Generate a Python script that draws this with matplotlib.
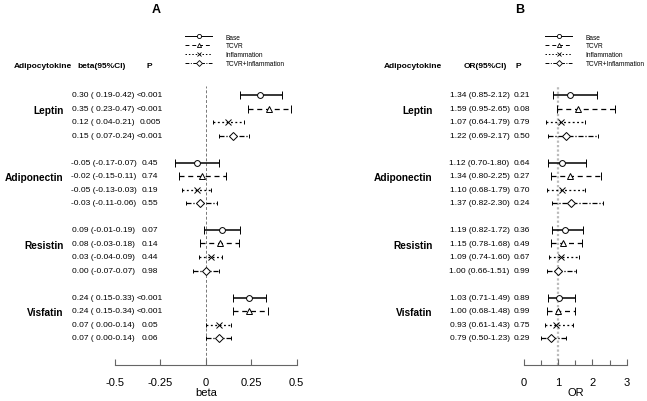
import numpy as np
import matplotlib
matplotlib.use("Agg")
import matplotlib.pyplot as plt
from matplotlib.lines import Line2D
from matplotlib import transforms

plt.rcParams['font.family'] = ['Liberation Sans', 'DejaVu Sans']

# ---------------- data ----------------
groups = ["Leptin", "Adiponectin", "Resistin", "Visfatin"]
models = ["Base", "TCVR", "Inflammation", "TCVR+Inflammation"]

beta_est = [[0.30, 0.35, 0.12, 0.15],
            [-0.05, -0.02, -0.05, -0.03],
            [0.09, 0.08, 0.03, 0.00],
            [0.24, 0.24, 0.07, 0.07]]
beta_lo = [[0.19, 0.23, 0.04, 0.07],
           [-0.17, -0.15, -0.13, -0.11],
           [-0.01, -0.03, -0.04, -0.07],
           [0.15, 0.15, 0.00, 0.00]]
beta_hi = [[0.42, 0.47, 0.21, 0.24],
           [0.07, 0.11, 0.03, 0.06],
           [0.19, 0.18, 0.09, 0.07],
           [0.33, 0.34, 0.14, 0.14]]
beta_p = [["<0.001", "<0.001", "0.005", "<0.001"],
          ["0.45", "0.74", "0.19", "0.55"],
          ["0.07", "0.14", "0.44", "0.98"],
          ["<0.001", "<0.001", "0.05", "0.06"]]

or_est = [[1.34, 1.59, 1.07, 1.22],
          [1.12, 1.34, 1.10, 1.37],
          [1.19, 1.15, 1.09, 1.00],
          [1.03, 1.00, 0.93, 0.79]]
or_lo = [[0.85, 0.95, 0.64, 0.69],
         [0.70, 0.80, 0.68, 0.82],
         [0.82, 0.78, 0.74, 0.66],
         [0.71, 0.68, 0.61, 0.50]]
or_hi = [[2.12, 2.65, 1.79, 2.17],
         [1.80, 2.25, 1.79, 2.30],
         [1.72, 1.68, 1.60, 1.51],
         [1.49, 1.48, 1.43, 1.23]]
or_p = [["0.21", "0.08", "0.79", "0.50"],
        ["0.64", "0.27", "0.70", "0.24"],
        ["0.36", "0.49", "0.67", "0.99"],
        ["0.89", "0.99", "0.75", "0.29"]]

beta_ticks = [-0.5, -0.25, 0, 0.25, 0.5]
beta_ticklabels = ["-0.5", "-0.25", "0", "0.25", "0.5"]
or_ticks = [0, 1, 2, 3]
or_minor = [0.5, 1.5, 2.5]
or_ticklabels = ["0", "1", "2", "3"]

# ---------------- styles ----------------
W, H = 647, 402
styles = [
    dict(marker='o', ms=4.2, ls='-', lw=1.1, cs=3.0),
    dict(marker='^', ms=5.0, ls=(0, (4, 3)), lw=0.9, cs=3.0),
    dict(marker='x', ms=3.8, ls=(0, (1.5, 2)), lw=0.9, cs=1.2),
    dict(marker='D', ms=4.3, ls=(0, (4, 1.5, 1, 1.5)), lw=0.9, cs=1.2),
]

fig = plt.figure(figsize=(W / 100, H / 100), dpi=100)
bg = fig.add_axes([0, 0, 1, 1])
bg.set_xlim(0, W)
bg.set_ylim(H, 0)
bg.axis('off')

ROW0, ROWSTEP = 96.0, 13.5
AX_TOP, AX_BOT = 80.0, 366.0


def make_axes(x0, x1):
    ax = fig.add_axes([x0 / W, (H - AX_BOT) / H, (x1 - x0) / W, (AX_BOT - AX_TOP) / H])
    ax.set_ylim((AX_BOT - ROW0) / ROWSTEP, (AX_TOP - ROW0) / ROWSTEP)
    ax.patch.set_alpha(0)
    for s in ['top', 'left', 'right']:
        ax.spines[s].set_visible(False)
    ax.spines['bottom'].set_color('#666666')
    ax.spines['bottom'].set_linewidth(0.8)
    ax.set_yticks([])
    ax.tick_params(axis='x', direction='in', length=4.5, width=0.8, color='#666666',
                   labelsize=8, pad=9)
    ax.tick_params(axis='x', which='minor', direction='in', length=3.5, width=0.8,
                   color='#666666')
    return ax


def draw_panel(ax, est, lo, hi, pvals, fmt, ref, ref_style, xlabel, ticks, ticklabels,
               name_x, ci_x, p_x, hdr_name_x, hdr_ci_x, hdr_ci, hdr_p_x, title, title_x,
               leg_x):
    tr = transforms.blended_transform_factory(bg.transData, ax.transData)
    ax.axvline(ref, ymin=0, ymax=(AX_BOT - 87) / (AX_BOT - AX_TOP), zorder=0, **ref_style)
    for g, gname in enumerate(groups):
        base = g * 5
        ax.text(name_x, base + 1.1, gname, transform=tr, ha='right', va='center',
                fontsize=7.3, fontweight='bold')
        for m in range(4):
            r = base + m
            st = styles[m]
            e, l, h = est[g][m], lo[g][m], hi[g][m]
            eb = ax.errorbar([e], [r], xerr=[[e - l], [h - e]], fmt=st['marker'],
                             ms=st['ms'], mfc='white', mec='black', mew=0.7,
                             ecolor='black', elinewidth=st['lw'], capsize=st['cs'],
                             capthick=0.9, color='black', zorder=3)
            eb[2][0].set_linestyle(st['ls'])
            ax.text(ci_x, r, fmt(e, l, h), transform=tr, ha='center', va='center',
                    fontsize=6.0)
            ax.text(p_x, r, pvals[g][m], transform=tr, ha='center', va='center',
                    fontsize=6.0)
    hy = -2.2
    ax.text(hdr_name_x, hy, "Adipocytokine", transform=tr, ha='center', va='center',
            fontsize=6, fontweight='bold')
    ax.text(hdr_ci_x, hy, hdr_ci, transform=tr, ha='center', va='center',
            fontsize=6, fontweight='bold')
    ax.text(hdr_p_x, hy, "P", transform=tr, ha='center', va='center',
            fontsize=6, fontweight='bold')
    ax.set_xticks(ticks)
    ax.set_xticklabels(ticklabels)
    ax.set_xlabel(xlabel, fontsize=8, labelpad=0)
    bg.text(title_x, 10, title, ha='center', va='center', fontsize=9, fontweight='bold')

    handles = [Line2D([], [], color='black', ls=s['ls'], lw=0.7, marker=s['marker'],
                      ms=3, mfc='white', mec='black', mew=0.6) for s in styles]
    bg.legend(handles, models, loc='upper left', bbox_to_anchor=(leg_x, 34.5),
              bbox_transform=bg.transData, frameon=False, fontsize=4.7,
              handlelength=4.2, handletextpad=2.0, labelspacing=0.3,
              borderpad=0, borderaxespad=0)


def fmt_beta(e, l, h):
    return f"{e:.2f} ({l: .2f}-{h:.2f})"


def fmt_or(e, l, h):
    return f"{e:.2f} ({l:.2f}-{h:.2f})"


axA = make_axes(115, 296.7)
axA.set_xlim(-0.5, 0.5)
draw_panel(axA, beta_est, beta_lo, beta_hi, beta_p, fmt_beta, 0,
           dict(color='#777777', ls=(0, (3, 2)), lw=0.7), "beta",
           beta_ticks, beta_ticklabels, 63.3, 103.5, 150, 42.5, 102, "beta(95%CI)",
           149, "A", 156, 185)
legA = bg.get_legend()
bg.add_artist(legA)

axB = make_axes(524, 626.7)
axB.set_xlim(0, 3)
axB.set_xticks(or_minor, minor=True)
draw_panel(axB, or_est, or_lo, or_hi, or_p, fmt_or, 1,
           dict(color='#bbbbbb', ls=(0, (1, 1)), lw=1.6), "OR",
           or_ticks, or_ticklabels, 432.7, 479.5, 521.5, 413, 485, "OR(95%CI)",
           518, "B", 520, 545)

fig.savefig("out.png", dpi=100)
